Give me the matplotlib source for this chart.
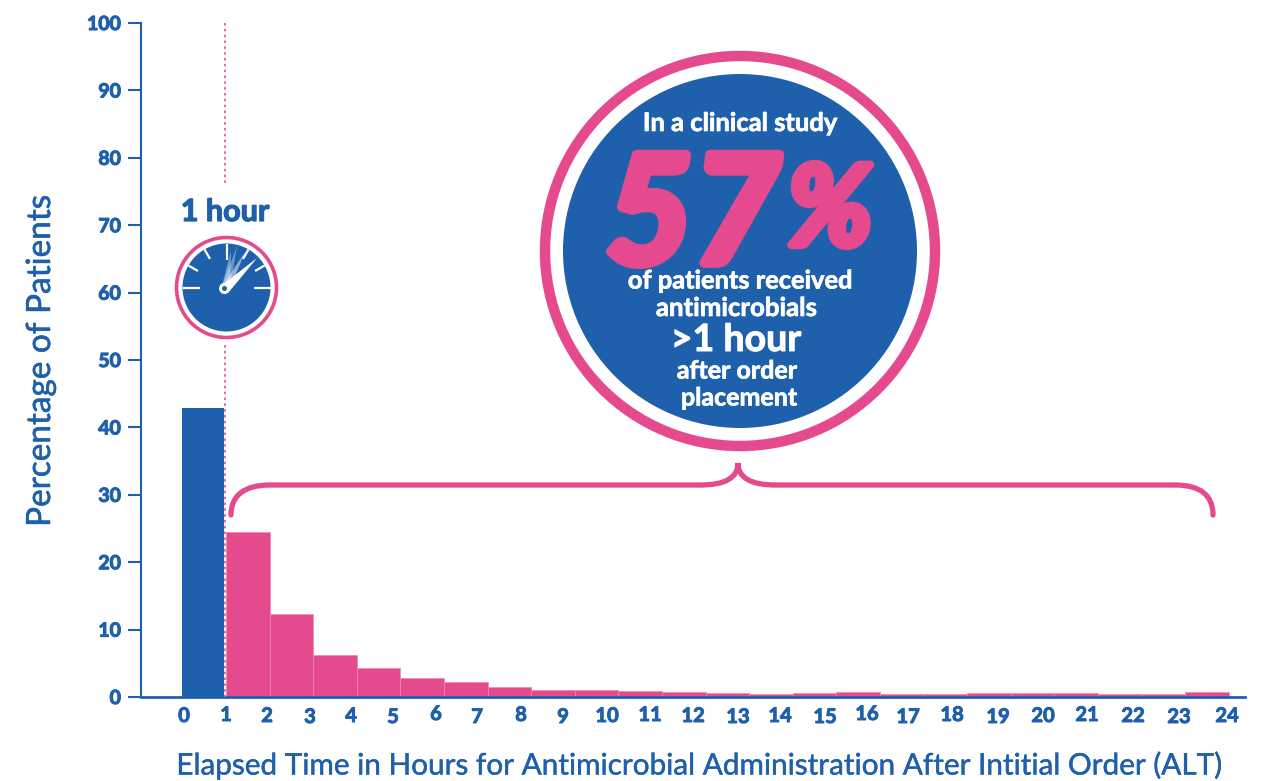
import numpy as np
import matplotlib
matplotlib.use('Agg')
import matplotlib.pyplot as plt
import matplotlib.patheffects as pe
from matplotlib.patches import Circle, Polygon, PathPatch
from matplotlib.path import Path

# data
first_hour = [42.9]
later_hours = [24.5, 12.3, 6.2, 4.3, 2.8, 2.2, 1.5, 1.05, 1.0, 0.85, 0.75, 0.65,
               0.5, 0.65, 0.8, 0.5, 0.5, 0.6, 0.6, 0.55, 0.5, 0.5, 0.75]
y_ticks = [0, 10, 20, 30, 40, 50, 60, 70, 80, 90, 100]
x_labels = [str(i) for i in range(25)]
# the labels are not evenly spaced in the original
x_label_px = [184, 226, 267, 310, 351, 393, 436, 477, 521, 563, 607, 650, 693,
              738, 780, 825, 867, 908, 952, 998, 1043, 1087, 1133, 1179, 1227]
x_label_py = [716, 715, 716, 717, 716, 717, 714, 717, 715, 717, 716, 715, 716,
              717, 716, 717, 714, 717, 715, 717, 716, 715, 716, 717, 716]

BLUE = '#1F60AC'
PINK = '#E44A8D'
FONT = 'Lato'
W, H = 1261, 781


def heavy(color, width):
    # Lato has no black weight here, so thicken the bold
    return [pe.withStroke(linewidth=width, foreground=color)]


fig = plt.figure(figsize=(W / 100, H / 100), dpi=100)
ax = fig.add_axes([141 / W, 1 - 697 / H, (1245 - 141) / W, (697 - 23) / H])

# one hour = 43.6 px, hour 1 starts at 226 px
hour_px = 43.6
ax.set_xlim((141 - 182.4) / hour_px, (1245 - 182.4) / hour_px)
ax.set_ylim(0, 100)

ax.bar([0.47], first_hour, width=0.96, color=BLUE, linewidth=0)
ax.bar(np.arange(len(later_hours)) + 1.5, later_hours, width=1.0, color=PINK,
       edgecolor='#EE86B2', linewidth=0.5)

ax.spines['top'].set_visible(False)
ax.spines['right'].set_visible(False)
ax.spines['left'].set_color(BLUE)
ax.spines['left'].set_linewidth(1.5)
ax.spines['bottom'].set_color(BLUE)
ax.spines['bottom'].set_linewidth(2)
ax.set_xticks([])
ax.set_yticks(y_ticks)
ax.tick_params(axis='y', length=9.4, width=1.5, color=BLUE, labelcolor=BLUE, pad=5)
for lab in ax.get_yticklabels():
    lab.set_fontfamily(FONT)
    lab.set_fontweight('bold')
    lab.set_fontsize(14)
    lab.set_path_effects(heavy(BLUE, 0.8))
ax.patch.set_alpha(0)

# overlay in pixel coordinates for the callouts
ov = fig.add_axes([0, 0, 1, 1])
ov.set_xlim(0, W)
ov.set_ylim(H, 0)
ov.axis('off')
ov.patch.set_alpha(0)

for lab, px, py in zip(x_labels, x_label_px, x_label_py):
    ov.text(px, py, lab, color=BLUE, fontfamily=FONT, fontweight='bold', fontsize=14.5,
            ha='center', va='center', path_effects=heavy(BLUE, 0.7))

ov.text(699.5, 765, 'Elapsed Time in Hours for Antimicrobial Administration After Intitial Order (ALT)',
        color=BLUE, fontfamily=FONT, fontsize=21.4, ha='center', va='center',
        path_effects=heavy(BLUE, 0.3))
ov.text(41, 361, 'Percentage of Patients', color=BLUE, fontfamily=FONT, fontsize=24,
        rotation=90, ha='center', va='center', path_effects=heavy(BLUE, 0.4))

# dotted hour line
ov.plot([225, 225], [23, 186], color=PINK, lw=1.2, ls=(0, (1.5, 2)))
ov.plot([225, 225], [345, 697], color=PINK, lw=1.2, ls=(0, (1.5, 2)))

# big circle
ov.add_patch(Circle((740, 251), 195, fc='white', ec=PINK, lw=7.5))
ov.add_patch(Circle((740, 251), 177, fc=BLUE, ec='none'))
ov.text(740, 123, 'In a clinical study', color='white', fontfamily=FONT, fontweight='bold',
        fontsize=18.4, ha='center', va='center', path_effects=heavy('white', 0.5))
ov.text(693, 220, '57', color=PINK, fontfamily=FONT, fontweight='bold', style='italic',
        fontsize=108, ha='center', va='center', path_effects=heavy(PINK, 7))
ov.text(830, 213, '%', color=PINK, fontfamily=FONT, fontweight='bold', style='italic',
        fontsize=80, ha='center', va='center', path_effects=heavy(PINK, 6))
ov.text(740, 281, 'of patients received', color='white', fontfamily=FONT, fontweight='bold',
        fontsize=18.3, ha='center', va='center', path_effects=heavy('white', 0.5))
ov.text(737, 308, 'antimicrobials', color='white', fontfamily=FONT, fontweight='bold',
        fontsize=18.6, ha='center', va='center', path_effects=heavy('white', 0.5))
ov.text(736, 340, '>1 hour', color='white', fontfamily=FONT, fontweight='bold',
        fontsize=27, ha='center', va='center', path_effects=heavy('white', 0.7))
ov.text(737, 371, 'after order', color='white', fontfamily=FONT, fontweight='bold',
        fontsize=18, ha='center', va='center', path_effects=heavy('white', 0.5))
ov.text(739, 398, 'placement', color='white', fontfamily=FONT, fontweight='bold',
        fontsize=18, ha='center', va='center', path_effects=heavy('white', 0.5))

# brace
verts = [(231, 515), (231, 495), (245, 485), (270, 485), (700, 485),
         (725, 485), (738, 478), (738, 463),
         (738, 478), (751, 485), (776, 485), (1175, 485),
         (1200, 485), (1213, 495), (1213, 515)]
codes = [Path.MOVETO, Path.CURVE4, Path.CURVE4, Path.CURVE4, Path.LINETO,
         Path.CURVE4, Path.CURVE4, Path.CURVE4,
         Path.CURVE4, Path.CURVE4, Path.CURVE4, Path.LINETO,
         Path.CURVE4, Path.CURVE4, Path.CURVE4]
ov.add_patch(PathPatch(Path(verts, codes), fc='none', ec=PINK, lw=3.8, capstyle='round'))

# gauge
cx, cy = 226.5, 287.5
ov.text(225, 212, '1 hour', color=BLUE, fontfamily=FONT, fontweight='bold', fontsize=22,
        ha='center', va='center', path_effects=heavy(BLUE, 0.9))
ov.add_patch(Circle((cx, cy), 50, fc='white', ec=PINK, lw=2.6))
ov.add_patch(Circle((cx, cy), 44, fc=BLUE, ec='none'))
for ang, r0 in [(0, 27), (30, 33), (60, 33), (90, 28), (120, 33), (150, 33), (180, 27)]:
    a = np.radians(ang)
    ov.plot([cx + r0 * np.cos(a), cx + 44 * np.cos(a)], [cy - r0 * np.sin(a), cy - 44 * np.sin(a)],
            color='white', lw=1.6, solid_capstyle='butt')
# ghost needles
for tip, alpha in [((237, 246), 0.35), ((231, 251), 0.4), ((245, 252), 0.5)]:
    ov.add_patch(Polygon([(cx - 5, cy), tip, (cx + 3, cy + 2)], fc='white', ec='none', alpha=alpha))
# needle and hub
ov.add_patch(Polygon([(cx - 5, cy - 2), (257, 258), (cx + 2, cy + 5)], fc='white', ec='none'))
ov.add_patch(Circle((cx - 2, cy + 1), 5.5, fc='white', ec='none'))
ov.add_patch(Circle((cx - 2, cy + 1), 2.5, fc=BLUE, ec='none'))

fig.savefig('out.png', dpi=100)
